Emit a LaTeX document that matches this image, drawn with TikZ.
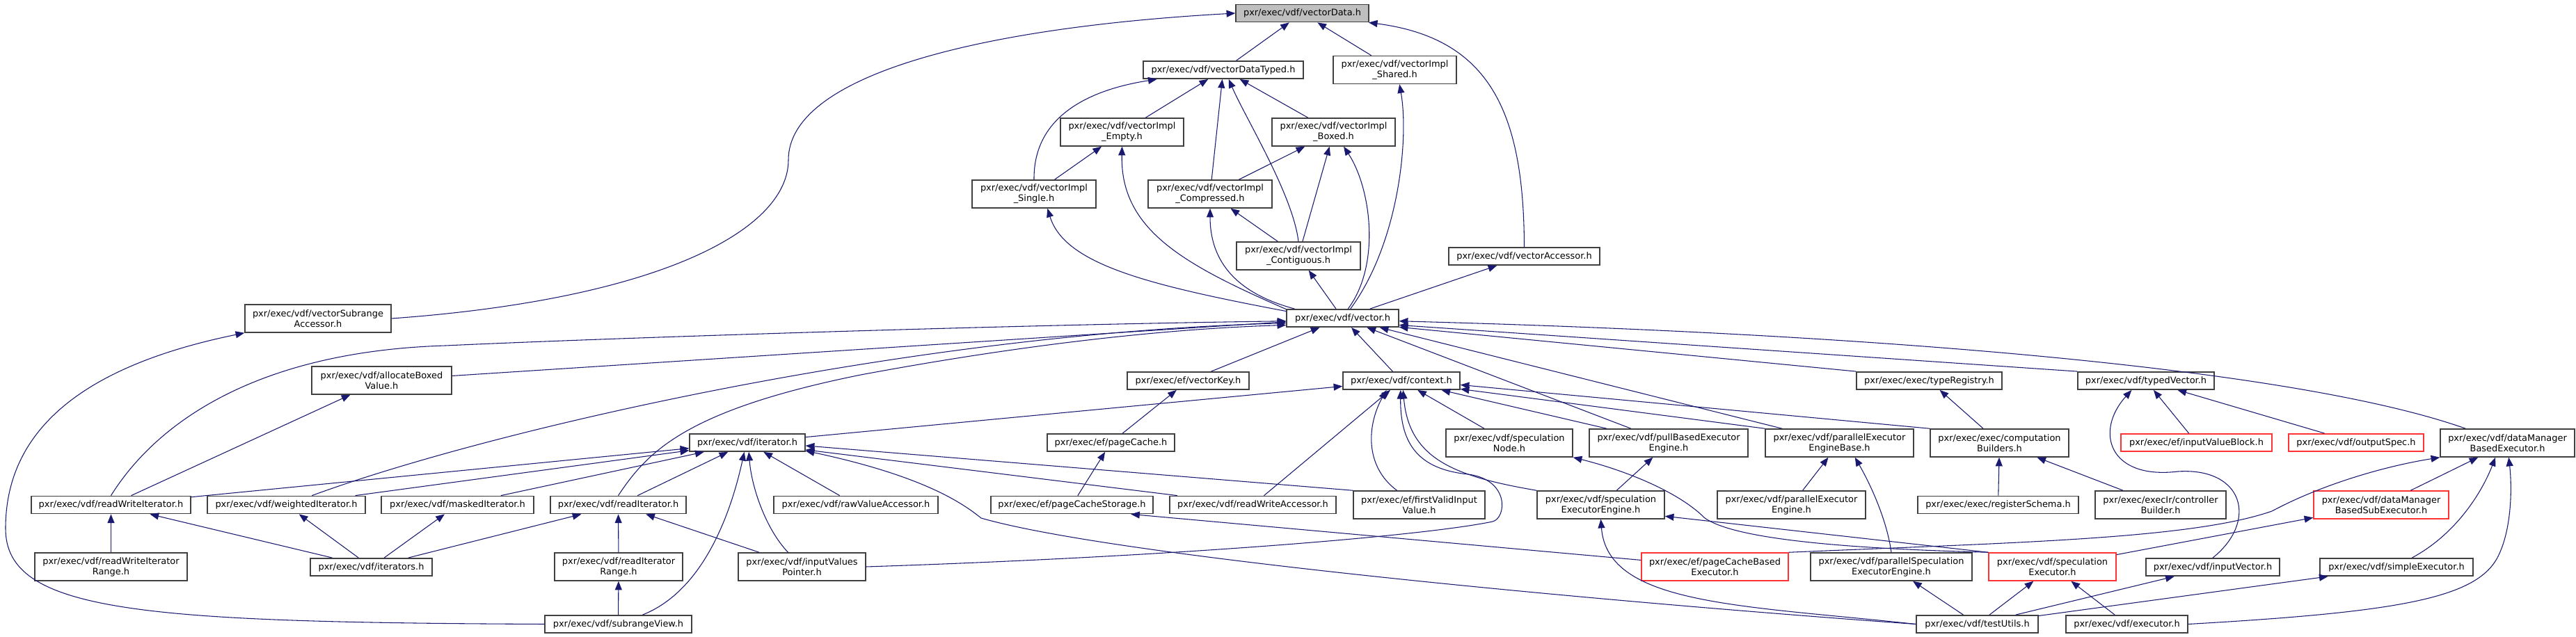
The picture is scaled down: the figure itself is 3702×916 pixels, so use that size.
\documentclass[tikz,border=0pt]{standalone}
\usepackage{fontspec}
\newfontfamily\dxfont{DejaVu Sans}
\usetikzlibrary{arrows.meta}
\definecolor{edgeblue}{HTML}{191970}
\definecolor{boxgray}{HTML}{404040}
\definecolor{rootfill}{HTML}{BFBFBF}
\definecolor{trunc}{HTML}{FF3333}

\begin{document}
\begin{tikzpicture}[
  x=0.75pt, y=-0.75pt,
  font=\dxfont\fontsize{9.7pt}{11.3pt}\selectfont,
  box/.style={draw=boxgray, line width=1.1pt, fill=white, align=center,
              inner xsep=2pt, inner ysep=1pt, minimum height=19pt},
  two/.style={minimum height=30pt},
  wd/.style={minimum width=#1*0.75pt},
  rootbox/.style={box, fill=rootfill},
  redbox/.style={box, draw=trunc},
  arr/.style={-{Triangle[length=9.5pt,width=7.5pt]}, color=edgeblue, line width=0.8pt}
]
\useasboundingbox (0,0) rectangle (3702,916);

\node[rootbox, wd=191] (vdata) at (1871.5,19) {pxr/exec/vdf/vectorData.h};
\node[box, wd=230] (vdtyped) at (1758,100.5) {pxr/exec/vdf/vectorDataTyped.h};
\node[box, two, wd=177] (implshared) at (2004.5,100.5) {pxr/exec/vdf/vectorImpl\\\_Shared.h};
\node[box, two, wd=177] (implempty) at (1612.5,190) {pxr/exec/vdf/vectorImpl\\\_Empty.h};
\node[box, two, wd=177] (implboxed) at (1916.5,190) {pxr/exec/vdf/vectorImpl\\\_Boxed.h};
\node[box, two, wd=178] (implsingle) at (1486,279) {pxr/exec/vdf/vectorImpl\\\_Single.h};
\node[box, two, wd=178] (implcompr) at (1739,279) {pxr/exec/vdf/vectorImpl\\\_Compressed.h};
\node[box, two, wd=178] (implcontig) at (1866,368) {pxr/exec/vdf/vectorImpl\\\_Contiguous.h};
\node[box, wd=217] (vaccessor) at (2190.5,368.5) {pxr/exec/vdf/vectorAccessor.h};
\node[box, two, wd=210] (vsubacc) at (457,458) {pxr/exec/vdf/vectorSubrange\\Accessor.h};
\node[box, wd=161] (vector) at (1929.5,457.5) {pxr/exec/vdf/vector.h};
\node[box, two, wd=201] (allocboxed) at (548.5,547) {pxr/exec/vdf/allocateBoxed\\Value.h};
\node[box, wd=175] (vkey) at (1707.5,547.5) {pxr/exec/ef/vectorKey.h};
\node[box, wd=168] (context) at (2014,547.5) {pxr/exec/vdf/context.h};
\node[box, wd=209] (typereg) at (2772.5,547.5) {pxr/exec/exec/typeRegistry.h};
\node[box, wd=196] (typedvec) at (3084,547.5) {pxr/exec/vdf/typedVector.h};
\node[box, wd=166] (iterator) at (1074,636.5) {pxr/exec/vdf/iterator.h};
\node[box, wd=183] (pagecache) at (1596.5,636.5) {pxr/exec/ef/pageCache.h};
\node[box, two, wd=182] (specnode) at (2169,637) {pxr/exec/vdf/speculation\\Node.h};
\node[box, two, wd=228] (pullbased) at (2398,637) {pxr/exec/vdf/pullBasedExecutor\\Engine.h};
\node[box, two, wd=213] (peebase) at (2643.5,637) {pxr/exec/vdf/parallelExecutor\\EngineBase.h};
\node[box, two, wd=199] (compbuild) at (2873.5,637) {pxr/exec/exec/computation\\Builders.h};
\node[redbox, wd=217] (inputvb) at (3156.5,636.5) {pxr/exec/ef/inputValueBlock.h};
\node[redbox, wd=194] (outspec) at (3386,636.5) {pxr/exec/vdf/outputSpec.h};
\node[box, two, wd=193] (dmbexec) at (3603.5,637) {pxr/exec/vdf/dataManager\\BasedExecutor.h};
\node[box, wd=229] (rwiter) at (159.5,726) {pxr/exec/vdf/readWriteIterator.h};
\node[box, wd=227] (weighted) at (411.5,726) {pxr/exec/vdf/weightedIterator.h};
\node[box, wd=219] (masked) at (657.5,726) {pxr/exec/vdf/maskedIterator.h};
\node[box, wd=195] (readiter) at (888.5,726) {pxr/exec/vdf/readIterator.h};
\node[box, wd=236] (rawva) at (1230,726) {pxr/exec/vdf/rawValueAccessor.h};
\node[box, wd=233] (pcstorage) at (1540.5,726) {pxr/exec/ef/pageCacheStorage.h};
\node[box, wd=239] (rwaccess) at (1800.5,726) {pxr/exec/vdf/readWriteAccessor.h};
\node[box, two, wd=189] (firstvalid) at (2039.5,726) {pxr/exec/ef/firstValidInput\\Value.h};
\node[box, two, wd=183] (specengine) at (2300.5,726) {pxr/exec/vdf/speculation\\ExecutorEngine.h};
\node[box, two, wd=213] (peengine) at (2574.5,726) {pxr/exec/vdf/parallelExecutor\\Engine.h};
\node[box, wd=231] (regschema) at (2871.5,726) {pxr/exec/exec/registerSchema.h};
\node[box, two, wd=188] (ctrlbuild) at (3105,726) {pxr/exec/execIr/controller\\Builder.h};
\node[redbox, two, wd=194] (dmbsub) at (3422,726) {pxr/exec/vdf/dataManager\\BasedSubExecutor.h};
\node[box, two, wd=219] (rwrange) at (159.5,815) {pxr/exec/vdf/readWriteIterator\\Range.h};
\node[box, wd=175] (iterators) at (533.5,815.5) {pxr/exec/vdf/iterators.h};
\node[box, two, wd=184] (readrange) at (889,815) {pxr/exec/vdf/readIterator\\Range.h};
\node[box, two, wd=183] (ivpointer) at (1152.5,815) {pxr/exec/vdf/inputValues\\Pointer.h};
\node[redbox, two, wd=211] (pcbased) at (2464.5,815) {pxr/exec/ef/pageCacheBased\\Executor.h};
\node[box, two, wd=232] (parspec) at (2718,815) {pxr/exec/vdf/parallelSpeculation\\ExecutorEngine.h};
\node[redbox, two, wd=183] (specexec) at (2949.5,815) {pxr/exec/vdf/speculation\\Executor.h};
\node[box, wd=192] (inputvec) at (3180,815.5) {pxr/exec/vdf/inputVector.h};
\node[box, wd=220] (simpleexec) at (3444,815.5) {pxr/exec/vdf/simpleExecutor.h};
\node[box, wd=211] (subrange) at (888.5,897.5) {pxr/exec/vdf/subrangeView.h};
\node[box, wd=175] (testutils) at (2841.5,897.5) {pxr/exec/vdf/testUtils.h};
\node[box, wd=175] (executor) at (3056.5,897.5) {pxr/exec/vdf/executor.h};

\draw[arr] (vdtyped) -- (vdata);
\draw[arr] (implshared) -- (vdata);
\draw[arr] (vaccessor.north) .. controls (2190,160) and (2140,55) .. (vdata.-8);
\draw[arr] (vsubacc.east) .. controls (950,430) and (1133,330) .. (1133,230)
  .. controls (1133,110) and (1400,40) .. (vdata.west);
\draw[arr] (implempty) -- (vdtyped);
\draw[arr] (implsingle.north) .. controls (1485,170) and (1560,130) .. (vdtyped.-172);
\draw[arr] (implcompr) -- (vdtyped);
\draw[arr] (implcontig.north) .. controls (1858,280) and (1790,170) .. (vdtyped.-60);
\draw[arr] (implboxed) -- (vdtyped);
\draw[arr] (implsingle) -- (implempty);
\draw[arr] (implcompr) -- (implboxed);
\draw[arr] (implcontig) -- (implboxed);
\draw[arr] (implcontig) -- (implcompr);
\draw[arr] (vector.173) .. controls (1650,410) and (1530,380) .. (implsingle.-47);
\draw[arr] (vector.171) .. controls (1700,380) and (1610,330) .. (implempty.south);
\draw[arr] (vector.169) .. controls (1770,420) and (1739,370) .. (implcompr.south);
\draw[arr] (vector) -- (implcontig);
\draw[arr] (vector.60) .. controls (1985,380) and (1970,270) .. (implboxed.-55);
\draw[arr] (vector.50) .. controls (2010,350) and (2025,200) .. (implshared.-72);
\draw[arr] (vector) -- (vaccessor);

\draw[arr] (rwiter.north) .. controls (230,600) and (380,505) .. (640,497)
  .. controls (900,485) and (1500,466) .. (vector.183);
\draw[arr] (rwiter) -- (allocboxed);
\draw[arr] (rwiter) -- (iterator);
\draw[arr] (allocboxed) -- (vector);
\draw[arr] (weighted.20) .. controls (700,620) and (1300,480) .. (vector.185);
\draw[arr] (weighted) -- (iterator);
\draw[arr] (masked) -- (iterator);
\draw[arr] (readiter) -- (iterator);
\draw[arr] (readiter.north) .. controls (930,650) and (985,590) .. (1237,539)
  .. controls (1500,490) and (1700,472) .. (vector.187);
\draw[arr] (vkey) -- (vector);
\draw[arr] (context) -- (vector);
\draw[arr] (pullbased) -- (vector);
\draw[arr] (peebase) -- (vector);
\draw[arr] (typereg.north west) -- (vector.-9);
\draw[arr] (typedvec.north west) -- (vector.-7);
\draw[arr] (dmbexec.161) .. controls (3300,530) and (2700,480) .. (vector.-3);

\draw[arr] (iterator) -- (context);
\draw[arr] (rawva) -- (iterator);
\draw[arr] (firstvalid.north west) -- (iterator.-3);
\draw[arr] (rwaccess) -- (iterator);
\draw[arr] (testutils.west) .. controls (2300,865) and (1600,800) .. (1410,745)
  .. controls (1385,725) and (1330,685) .. (iterator.-8);
\draw[arr] (subrange.21) .. controls (1010,850) and (1050,740) .. (iterator.-108);
\draw[arr] (ivpointer.134) .. controls (1100,760) and (1080,700) .. (iterator.-81);
\draw[arr] (ivpointer) -- (readiter);
\draw[arr] (readrange) -- (readiter);
\draw[arr] (iterators) -- (readiter);
\draw[arr] (iterators) -- (masked);
\draw[arr] (iterators) -- (weighted);
\draw[arr] (iterators) -- (rwiter);
\draw[arr] (rwrange) -- (rwiter);
\draw[arr] (subrange) -- (readrange);
\draw[arr] (subrange.west) .. controls (200,895) and (8,880) .. (8,760)
  .. controls (8,600) and (150,520) .. (vsubacc.south west);

\draw[arr] (rwaccess) -- (context);
\draw[arr] (firstvalid.147) .. controls (1960,670) and (1965,610) .. (context.-148);
\draw[arr] (ivpointer.east) .. controls (1700,800) and (2050,770) .. (2145,750)
  .. controls (2165,745) and (2170,690) .. (2110,682)
  .. controls (2040,675) and (2012,640) .. (context.-95);
\draw[arr] (specengine.north west) .. controls (2090,685) and (2025,660) .. (context.-80);
\draw[arr] (specnode) -- (context);
\draw[arr] (pullbased) -- (context);
\draw[arr] (peebase.north west) -- (context.-8);
\draw[arr] (compbuild.north west) -- (context.-4);
\draw[arr] (compbuild) -- (typereg);
\draw[arr] (regschema) -- (compbuild);
\draw[arr] (ctrlbuild) -- (compbuild);
\draw[arr] (inputvb) -- (typedvec);
\draw[arr] (outspec) -- (typedvec);
\draw[arr] (inputvec.north) .. controls (3245,750) and (3225,672) .. (3130,678)
  .. controls (3030,690) and (3010,620) .. (typedvec.-147);

\draw[arr] (dmbsub) -- (dmbexec);
\draw[arr] (simpleexec.31) .. controls (3535,765) and (3570,700) .. (dmbexec.-130);
\draw[arr] (executor.east) .. controls (3450,880) and (3560,860) .. (3590,800)
  .. controls (3610,760) and (3610,700) .. (dmbexec.-85);
\draw[arr] (pcbased.north east) .. controls (2900,780) and (3150,775) .. (3265,735)
  .. controls (3340,695) and (3430,670) .. (dmbexec.south west);
\draw[arr] (pcbased) -- (pcstorage.-9);
\draw[arr] (pcstorage) -- (pagecache);
\draw[arr] (pagecache) -- (vkey);
\draw[arr] (parspec.north) .. controls (2712,750) and (2690,700) .. (peebase.-43);
\draw[arr] (peengine) -- (peebase);
\draw[arr] (specengine) -- (pullbased);
\draw[arr] (specexec.north west) .. controls (2700,790) and (2500,780) .. (2450,745)
  .. controls (2410,705) and (2330,675) .. (specnode.south east);
\draw[arr] (specexec.north west) -- (specengine.-10);
\draw[arr] (specexec) -- (dmbsub);
\draw[arr] (testutils) -- (parspec);
\draw[arr] (testutils) -- (specexec);
\draw[arr] (testutils.west) .. controls (2500,870) and (2310,870) .. (specengine.south);
\draw[arr] (testutils) -- (inputvec);
\draw[arr] (testutils) -- (simpleexec);
\draw[arr] (executor) -- (specexec);
\end{tikzpicture}
\end{document}
